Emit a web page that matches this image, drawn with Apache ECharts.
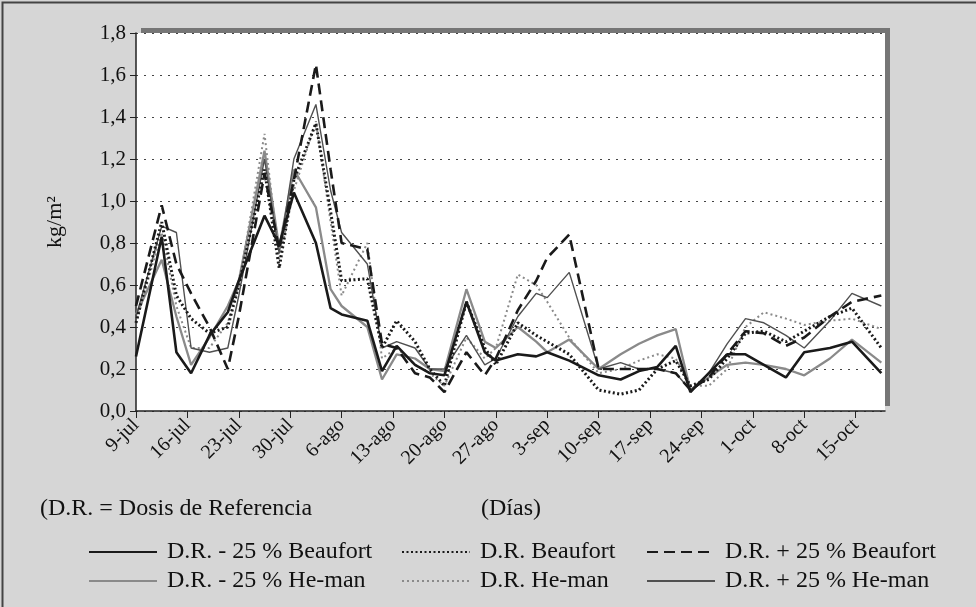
<!DOCTYPE html>
<html>
<head>
<meta charset="utf-8">
<script src="https://cdn.jsdelivr.net/npm/echarts@6/dist/echarts.min.js"></script>
<style>
html,body{margin:0;padding:0;background:#d6d6d6;}
#c{width:976px;height:607px;}
</style>
</head>
<body>
<div id="c"></div>
<script>
// Days after 9-jul of each sampling
const days = [0, 3.5, 5.5, 7.5, 10, 12.5, 14, 17.5, 19.5, 21.5, 24.5, 26.5, 28, 31.5, 33.5, 35.5, 38, 40, 42, 45, 47.5, 49, 52, 54.5, 56, 59, 63, 66, 68.5, 71, 73.5, 75.5, 78, 80.5, 83, 85.5, 88.5, 91, 94.5, 97.5, 101.5];
const tickLabels = ['9-jul','16-jul','23-jul','30-jul','6-ago','13-ago','20-ago','27-ago','3-sep','10-sep','17-sep','24-sep','1-oct','8-oct','15-oct'];
const yTicks = [0, 0.2, 0.4, 0.6, 0.8, 1.0, 1.2, 1.4, 1.6, 1.8];

const drMinus25Beaufort = [0.26, 0.83, 0.28, 0.18, 0.36, 0.47, 0.62, 0.93, 0.79, 1.04, 0.80, 0.49, 0.46, 0.43, 0.19, 0.31, 0.22, 0.18, 0.17, 0.52, 0.28, 0.24, 0.27, 0.26, 0.28, 0.24, 0.17, 0.15, 0.19, 0.21, 0.31, 0.09, 0.18, 0.27, 0.27, 0.22, 0.16, 0.28, 0.30, 0.33, 0.18];
const drBeaufort = [0.42, 0.90, 0.55, 0.44, 0.37, 0.40, 0.60, 1.15, 0.68, 1.10, 1.37, 0.95, 0.62, 0.63, 0.30, 0.43, 0.33, 0.20, 0.12, 0.52, 0.30, 0.22, 0.42, 0.36, 0.33, 0.27, 0.10, 0.08, 0.10, 0.20, 0.24, 0.12, 0.15, 0.25, 0.37, 0.38, 0.33, 0.38, 0.45, 0.49, 0.30];
const drPlus25Beaufort = [0.50, 0.98, 0.70, 0.56, 0.40, 0.20, 0.45, 1.13, 0.77, 1.10, 1.65, 1.15, 0.80, 0.77, 0.32, 0.30, 0.18, 0.16, 0.09, 0.28, 0.17, 0.25, 0.48, 0.62, 0.73, 0.84, 0.20, 0.20, 0.20, 0.20, 0.18, 0.10, 0.16, 0.27, 0.38, 0.37, 0.31, 0.35, 0.45, 0.52, 0.55];
const drMinus25Heman = [0.46, 0.72, 0.45, 0.22, 0.35, 0.50, 0.62, 1.24, 0.78, 1.15, 0.97, 0.58, 0.50, 0.40, 0.15, 0.27, 0.25, 0.20, 0.19, 0.58, 0.33, 0.30, 0.40, 0.33, 0.28, 0.34, 0.20, 0.27, 0.32, 0.36, 0.39, 0.10, 0.16, 0.22, 0.23, 0.22, 0.20, 0.17, 0.25, 0.34, 0.23];
const drHeman = [0.42, 0.85, 0.50, 0.30, 0.30, 0.42, 0.60, 1.32, 0.72, 1.05, 1.38, 0.90, 0.55, 0.80, 0.25, 0.30, 0.22, 0.18, 0.12, 0.35, 0.25, 0.30, 0.65, 0.60, 0.52, 0.35, 0.18, 0.20, 0.24, 0.27, 0.25, 0.12, 0.12, 0.20, 0.40, 0.47, 0.44, 0.41, 0.43, 0.44, 0.39];
const drPlus25Heman = [0.45, 0.88, 0.85, 0.30, 0.28, 0.30, 0.55, 1.20, 0.75, 1.20, 1.46, 1.05, 0.85, 0.70, 0.30, 0.33, 0.30, 0.20, 0.20, 0.36, 0.22, 0.25, 0.45, 0.56, 0.54, 0.66, 0.20, 0.23, 0.20, 0.20, 0.18, 0.10, 0.18, 0.32, 0.44, 0.42, 0.36, 0.30, 0.43, 0.56, 0.50];

const seriesNames = ['D.R. - 25 % Beaufort','D.R. Beaufort','D.R. + 25 % Beaufort','D.R. - 25 % He-man','D.R. He-man','D.R. + 25 % He-man'];
const seriesValues = [drMinus25Beaufort, drBeaufort, drPlus25Beaufort, drMinus25Heman, drHeman, drPlus25Heman];
const seriesStyles = [
  {color:'#1a1a1a', width:2.6, type:'solid'},
  {color:'#1a1a1a', width:3, type:[2,2.5]},
  {color:'#1a1a1a', width:2.6, type:[11,6]},
  {color:'#8a8a8a', width:2.3, type:'solid'},
  {color:'#8a8a8a', width:2, type:[2,3]},
  {color:'#505050', width:1.4, type:'solid'}
];

const FONT = '"Liberation Serif", "Times New Roman", serif';
const chart = echarts.init(document.getElementById('c'));

const legendPos = [[83,535],[396,535],[641,535],[83,564],[396,564],[641,564]];

const series = seriesNames.map((n,i)=>({
  name:n, type:'line', symbol:'none', smooth:false,
  data: days.map((d,j)=>[d, seriesValues[i][j]]),
  lineStyle:{color:seriesStyles[i].color, width:seriesStyles[i].width, type:seriesStyles[i].type},
  itemStyle:{color:seriesStyles[i].color},
  z: [6,5,5,3,3,4][i]
}));

const legends = seriesNames.map((n,i)=>({
  data:[n], left:legendPos[i][0], top:legendPos[i][1],
  itemWidth:68, itemHeight:14, selectedMode:false,
  itemStyle:{opacity:0, color:'transparent', borderWidth:0},
  textStyle:{fontFamily:FONT, fontSize:24, color:'#111', padding:[0,0,0,5]}
}));

chart.setOption({
  backgroundColor:'#d6d6d6',
  animation:false,
  grid:{left:136, right:91, top:33, bottom:196, show:true, backgroundColor:'#ffffff',
        borderWidth:0, shadowColor:'#767676', shadowOffsetX:5, shadowOffsetY:-5, shadowBlur:0},
  legend: legends,
  xAxis:{type:'value', min:0, max:102, interval:7,
    axisLine:{lineStyle:{color:'#222', width:1.5}},
    axisTick:{show:true, length:7, inside:false, lineStyle:{color:'#222'}},
    splitLine:{show:false},
    axisLabel:{rotate:45, fontFamily:FONT, fontSize:20, color:'#111', margin:11, showMaxLabel:false,
      formatter:v=>{ const k=v/7; return (Number.isInteger(k) && k<tickLabels.length) ? tickLabels[k] : ''; }}
  },
  yAxis:{type:'value', min:0, max:1.8, interval:0.2,
    name:'kg/m²', nameLocation:'middle', nameGap:70, nameRotate:90,
    nameTextStyle:{fontFamily:FONT, fontSize:22, color:'#111'},
    axisLine:{show:true, lineStyle:{color:'#222', width:1.5}},
    axisTick:{show:true, length:6, lineStyle:{color:'#222'}},
    splitLine:{show:true, lineStyle:{color:'#444', type:[2,6], width:1.2}},
    axisLabel:{fontFamily:FONT, fontSize:21, color:'#111', margin:10,
      formatter:v=>v.toFixed(1).replace('.', ',')}
  },
  graphic:[
    {type:'rect', left:0, top:0, shape:{width:975, height:606}, style:{fill:'none', stroke:'#444', lineWidth:2}, silent:true},
    {type:'text', left:40, top:497, style:{text:'(D.R. = Dosis de Referencia', font:'24px ' + FONT, fill:'#111'}},
    {type:'text', left:481, top:497, style:{text:'(Días)', font:'24px ' + FONT, fill:'#111'}}
  ],
  series: series
});
</script>
</body>
</html>
